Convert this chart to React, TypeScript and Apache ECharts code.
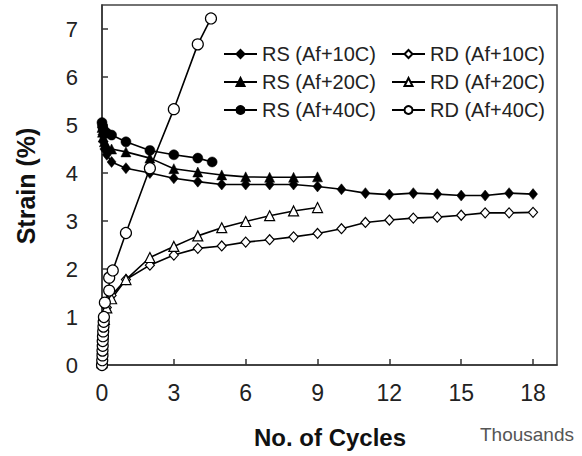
import React, { useEffect, useRef } from "react";
import * as echarts from "echarts";

const xTicks = [0, 3, 6, 9, 12, 15, 18];
const yTicks = [0, 1, 2, 3, 4, 5, 6, 7];

const rs10: [number, number][] = [
  [0, 4.95], [0.02, 4.8], [0.05, 4.65], [0.1, 4.5], [0.2, 4.38], [0.4, 4.23],
  [1, 4.1], [2, 4.0], [3, 3.89], [4, 3.82], [5, 3.76], [6, 3.76], [7, 3.76],
  [8, 3.76], [9, 3.72], [10, 3.66], [11, 3.58], [12, 3.55], [13, 3.58],
  [14, 3.56], [15, 3.53], [16, 3.53], [17, 3.58], [18, 3.56],
];
const rs20: [number, number][] = [
  [0, 4.95], [0.02, 4.85], [0.05, 4.75], [0.1, 4.65], [0.2, 4.56], [0.4, 4.5],
  [1, 4.44], [2, 4.31], [3, 4.09], [4, 4.02], [5, 3.96], [6, 3.92], [7, 3.91],
  [8, 3.91], [9, 3.92],
];
const rs40: [number, number][] = [
  [0, 5.05], [0.02, 4.98], [0.05, 4.92], [0.1, 4.87], [0.2, 4.83], [0.4, 4.79],
  [1, 4.65], [2, 4.47], [3, 4.38], [4, 4.31], [4.6, 4.23],
];
const rd10: [number, number][] = [
  [0, 0.05], [0.02, 0.3], [0.05, 0.6], [0.1, 0.9], [0.2, 1.2], [0.4, 1.45],
  [1, 1.78], [2, 2.08], [3, 2.29], [4, 2.43], [5, 2.48], [6, 2.56], [7, 2.61],
  [8, 2.67], [9, 2.74], [10, 2.84], [11, 2.97], [12, 3.02], [13, 3.06],
  [14, 3.08], [15, 3.12], [16, 3.17], [17, 3.17], [18, 3.18],
];
const rd20: [number, number][] = [
  [0, 0.05], [0.02, 0.35], [0.05, 0.65], [0.1, 0.95], [0.2, 1.19], [0.4, 1.38],
  [1, 1.78], [2, 2.24], [3, 2.47], [4, 2.69], [5, 2.86], [6, 2.99], [7, 3.11],
  [8, 3.21], [9, 3.28],
];
const rd40: [number, number][] = [
  [0, 0.0], [0.01, 0.1], [0.02, 0.2], [0.02, 0.3], [0.03, 0.4], [0.03, 0.5],
  [0.04, 0.6], [0.05, 0.7], [0.06, 0.8], [0.07, 0.9], [0.08, 1.0], [0.12, 1.3],
  [0.3, 1.55], [0.3, 1.82], [0.45, 1.97], [1, 2.75], [2, 4.1], [3, 5.33],
  [4, 6.68], [4.55, 7.22],
];

const FONT = "'Liberation Sans', Arial, sans-serif";

function mk(name: string, data: [number, number][], symbol: string, size: any, filled: boolean) {
  return {
    name,
    type: "line",
    data,
    symbol,
    symbolSize: size,
    showSymbol: true,
    lineStyle: { color: "#000", width: 1.6 },
    itemStyle: filled
      ? { color: "#000", borderColor: "#000", borderWidth: 0.5 }
      : { color: "#fff", borderColor: "#000", borderWidth: 1.2 },
    emphasis: { disabled: true },
    z: filled ? 2 : 3,
  };
}

export default function App() {
  const ref = useRef<HTMLDivElement>(null);
  useEffect(() => {
    if (!ref.current) return;
    const chart = echarts.init(ref.current, undefined, { renderer: "svg" });
    const legendCommon = {
      orient: "vertical",
      top: 44,
      padding: 0,
      itemWidth: 33,
      itemHeight: 10,
      itemGap: 8,
      selectedMode: false,
      textStyle: { fontFamily: FONT, fontSize: 20, color: "#222", lineHeight: 20 },
    };
    chart.setOption({
      animation: false,
      grid: {
        left: 102, right: 25, top: 5, bottom: 91,
        show: true, borderColor: "#444", borderWidth: 1.5,
      },
      legend: [
        { ...legendCommon, left: 223, data: ["RS (Af+10C)", "RS (Af+20C)", "RS (Af+40C)"] },
        { ...legendCommon, left: 391, data: ["RD (Af+10C)", "RD (Af+20C)", "RD (Af+40C)"] },
      ],
      xAxis: {
        type: "value", min: 0, max: 19, interval: 3,
        axisLine: { show: true, lineStyle: { color: "#333", width: 1.5 } },
        axisTick: { show: true, inside: true, length: 6, lineStyle: { color: "#333", width: 1.5 } },
        splitLine: { show: false },
        axisLabel: {
          margin: 16, fontFamily: FONT, fontSize: 23, color: "#222", showMaxLabel: false,
          formatter: (v: number) => (xTicks.includes(v) ? String(v) : ""),
        },
      },
      yAxis: {
        type: "value", min: 0, max: 7.5, interval: 1,
        axisLine: { show: true, lineStyle: { color: "#333", width: 1.5 } },
        axisTick: { show: true, inside: true, length: 6, lineStyle: { color: "#333", width: 1.5 } },
        splitLine: { show: false },
        axisLabel: {
          margin: 24, fontFamily: FONT, fontSize: 22, color: "#222", showMaxLabel: false,
          formatter: (v: number) => (yTicks.includes(v) ? String(v) : ""),
        },
      },
      graphic: [
        {
          type: "text", x: 26, y: 186, rotation: Math.PI / 2,
          style: { text: "Strain (%)", font: `bold 25px ${FONT}`, fill: "#111", textAlign: "center", textVerticalAlign: "middle" },
        },
        {
          type: "text", x: 330, y: 437,
          style: { text: "No. of Cycles", font: `bold 24px ${FONT}`, fill: "#111", textAlign: "center", textVerticalAlign: "middle" },
        },
        {
          type: "text", x: 527, y: 434,
          style: { text: "Thousands", font: `19px ${FONT}`, fill: "#555", textAlign: "center", textVerticalAlign: "middle" },
        },
      ],
      series: [
        mk("RS (Af+10C)", rs10, "diamond", [9, 11], true),
        mk("RS (Af+20C)", rs20, "triangle", 10, true),
        mk("RS (Af+40C)", rs40, "circle", 10, true),
        mk("RD (Af+10C)", rd10, "diamond", [9, 10], false),
        mk("RD (Af+20C)", rd20, "triangle", 10, false),
        mk("RD (Af+40C)", rd40, "circle", 11, false),
      ],
    });
    return () => chart.dispose();
  }, []);
  return <div ref={ref} style={{ width: 582, height: 456, position: "absolute", left: 0, top: 0 }} />;
}
